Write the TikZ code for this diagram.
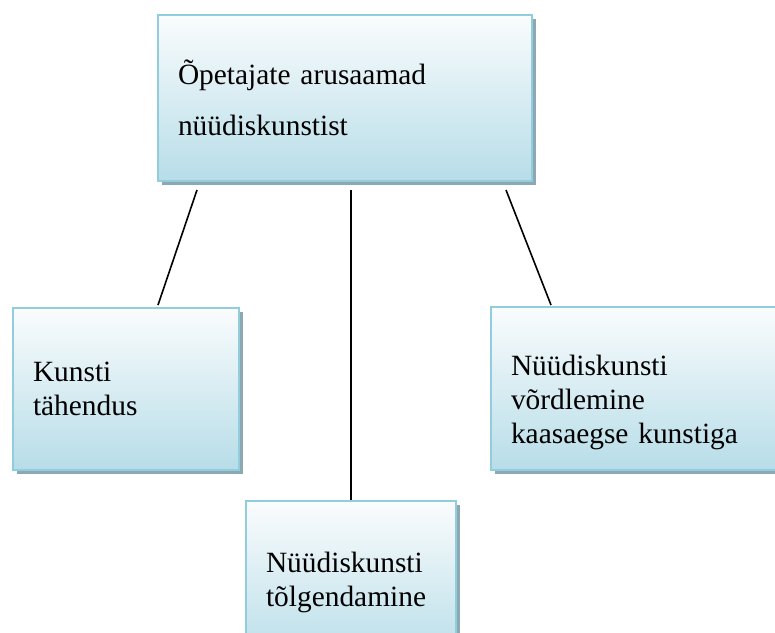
\documentclass[tikz,border=0pt]{standalone}
\usepackage{fontspec}
\setmainfont{Liberation Serif}
\usetikzlibrary{shadows,calc}

\definecolor{boxline}{RGB}{146,205,221}
\definecolor{boxtop}{RGB}{250,252,253}
\definecolor{boxbottom}{RGB}{183,221,232}
\definecolor{boxshadow}{RGB}{140,168,178}

\begin{document}
\begin{tikzpicture}[x=0.5pt,y=-0.5pt,
		box/.style={draw=boxline,line width=1pt,top color=boxtop,bottom color=boxbottom,
			anchor=north west,align=left,inner xsep=10pt,inner ysep=0pt,
			font=\fontsize{14.7}{17}\selectfont,
			drop shadow={shadow xshift=2pt,shadow yshift=-2pt,fill=boxshadow,opacity=1}},
		link/.style={line width=0.8pt,black}]
		\useasboundingbox (0,0) rectangle (775,632);
		\node[box,text width=167pt,minimum height=83pt,font=\fontsize{14.7}{25.5}\selectfont] (top) at (157,14) {Õpetajate arusaamad\\nüüdiskunstist};
		\node[box,text width=93pt,minimum height=81pt] (kb) at (12,307) {Kunsti\\tähendus};
		\node[box,text width=130pt,minimum height=81.5pt,text height=24pt] (vb) at (490,306) {Nüüdiskunsti\\võrdlemine\\kaasaegse kunstiga};
		\node[box,text width=85pt,minimum height=81pt] (tb) at (245,500) {Nüüdiskunsti\\tõlgendamine};
		% connectors from the top box:
		\draw[link] ($(top.south west)+(40,8)$)--($(kb.north west)+(146,-2)$);
		\draw[link] ($(top.south west)+(194,8)$)--($(tb.north west)+(106,0)$);
		\draw[link] ($(top.south west)+(349,8)$)--($(vb.north west)+(61,-1)$);
\end{tikzpicture}
\end{document}
